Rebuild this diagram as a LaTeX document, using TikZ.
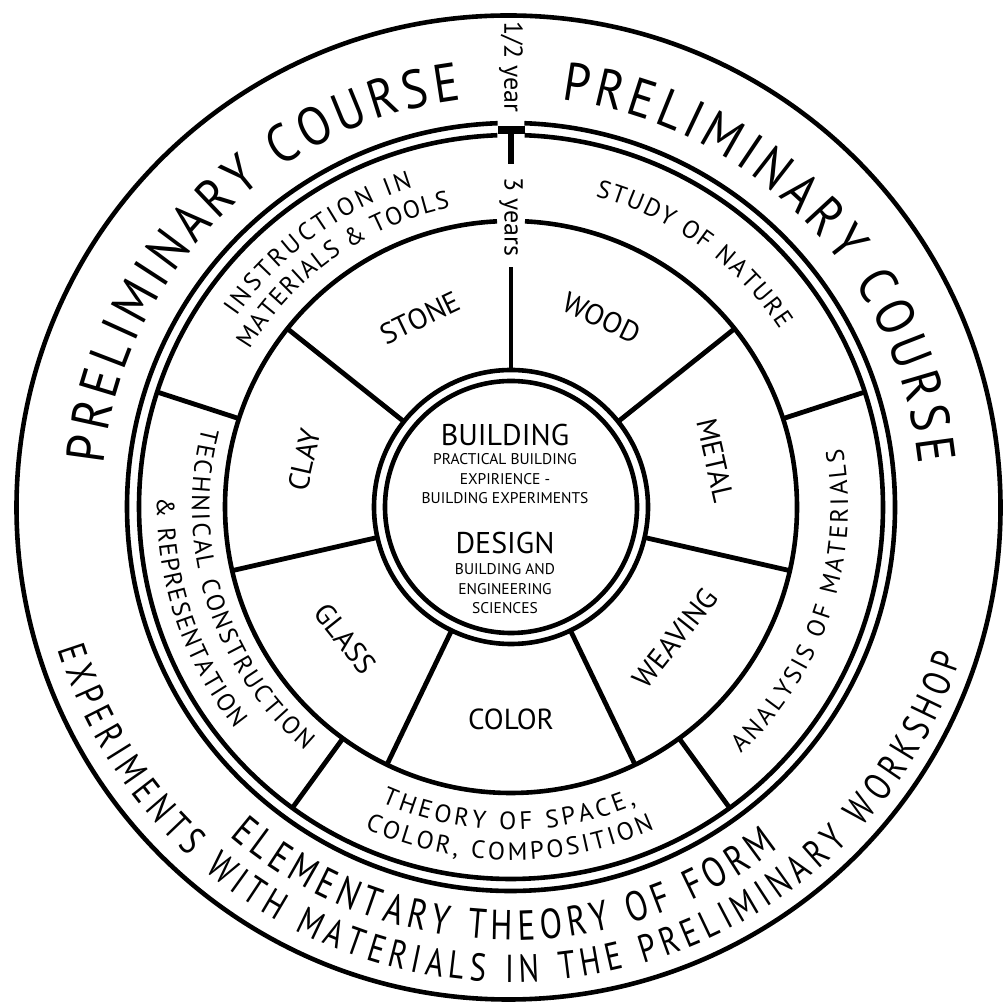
\documentclass[tikz,border=0pt]{standalone}
\usepackage{fontspec}
\setmainfont{PT Sans}
\newfontfamily\condfont[FakeStretch=0.78]{PT Sans}
\newfontfamily\semicondfont[FakeStretch=0.88]{PT Sans}
\usetikzlibrary{decorations.text,calc}
\begin{document}
\begin{tikzpicture}[x=1pt,y=1pt,
  ringline/.style={draw=black,line width=4.6pt},
  divider/.style={draw=black,line width=4.8pt},
  seglabel/.style={font=\fontsize{29}{30}\selectfont, inner sep=0pt},
  centerbig/.style={font=\fontsize{30}{30}\selectfont, inner sep=0pt},
  centersmall/.style={font=\fontsize{15.5}{19.5}\selectfont, inner sep=0pt, align=center},
  yearlabel/.style={font=\fontsize{26}{28}\selectfont, inner sep=0pt, rotate=-90},
  arctext/.style={decorate, decoration={text along path, text align=fit to path, text={#1}}},
]
\useasboundingbox (0,0) rectangle (1004,1008);
\coordinate (C) at (511,501);
\coordinate (O) at (508.5,500.5);

% circles
\draw[ringline] (O) circle[radius=492];
\draw[ringline] ($(C)+(92:384)$) arc[start angle=92,end angle=448,radius=384];
\draw[ringline] ($(C)+(92.1:372)$) arc[start angle=92.1,end angle=447.9,radius=372];
\draw[ringline] ($(C)+(92.8:286)$) arc[start angle=92.8,end angle=447.2,radius=286];
\draw[ringline] (C) circle[radius=137];
\draw[ringline] (C) circle[radius=126];

% T mark and top divider
\fill ($(C)+(-13.5,373)$) rectangle ($(C)+(13.5,381)$);
\draw[line width=6pt] ($(C)+(0,377)$) -- ($(C)+(0,343)$);
\draw[divider] ($(C)+(0,137)$) -- ($(C)+(0,240)$);

% inner wheel dividers
\foreach \a in {141.43,192.86,244.29,295.71,347.14,38.57}
  \draw[divider] ($(C)+(\a:137)$) -- ($(C)+(\a:286)$);
% ring dividers
\foreach \a in {162,234,306,18}
  \draw[divider] ($(C)+(\a:286)$) -- ($(C)+(\a:372)$);

% year labels
\node[yearlabel] (half) at (511,941) {1/2 year};
\node[yearlabel] (three) at (511,791) {3 years};

% outer ring texts
\path[arctext={|\semicondfont\fontsize{54}{54}\selectfont|PRELIMINARY COURSE}]
  ($(C)+(174:410)$) arc[start angle=174,end angle=97,radius=410];
\path[arctext={|\semicondfont\fontsize{54}{54}\selectfont|PRELIMINARY COURSE}]
  ($(C)+(83:410)$) arc[start angle=83,end angle=6,radius=410];
\path[arctext={|\condfont\fontsize{42}{42}\selectfont|ELEMENTARY THEORY OF FORM}]
  ($(C)+(229.5:433)$) arc[start angle=229.5,end angle=308,radius=433];
\path[arctext={|\condfont\fontsize{39}{39}\selectfont|EXPERIMENTS WITH MATERIALS IN THE PRELIMINARY WORKSHOP}]
  ($(C)+(197.5:475)$) arc[start angle=197.5,end angle=341.5,radius=475];

% middle ring texts
\path[arctext={|\fontsize{25}{25}\selectfont|INSTRUCTION IN}]
  ($(C)+(145.3:334)$) arc[start angle=145.3,end angle=107.1,radius=334];
\path[arctext={|\fontsize{25}{25}\selectfont|MATERIALS {\&} TOOLS}]
  ($(C)+(149:305)$) arc[start angle=149,end angle=101.5,radius=305];
\path[arctext={|\fontsize{25}{25}\selectfont|STUDY OF NATURE}]
  ($(C)+(74.8:322)$) arc[start angle=74.8,end angle=33.4,radius=322];
\path[arctext={|\fontsize{25}{25}\selectfont|ANALYSIS OF MATERIALS}]
  ($(C)+(-47:337)$) arc[start angle=-47,end angle=10,radius=337];
\path[arctext={|\fontsize{25}{25}\selectfont|THEORY OF SPACE{,}}]
  ($(C)+(246.3:323)$) arc[start angle=246.3,end angle=292.8,radius=323];
\path[arctext={|\fontsize{25}{25}\selectfont|COLOR{,} COMPOSITION}]
  ($(C)+(245.5:353)$) arc[start angle=245.5,end angle=294,radius=353];
\path[arctext={|\fontsize{25}{25}\selectfont|TECHNICAL CONSTRUCTION}]
  ($(C)+(165.5:319)$) arc[start angle=165.5,end angle=229.8,radius=319];
\path[arctext={|\fontsize{25}{25}\selectfont|{\&} REPRESENTATION}]
  ($(C)+(178.5:354)$) arc[start angle=178.5,end angle=218.8,radius=354];

% wheel segment labels
\node[seglabel,rotate=25.71]  (stone)   at ($(C)+(115.71:210)$) {STONE};
\node[seglabel,rotate=-25.71] (wood)    at ($(C)+(64.29:210)$) {WOOD};
\node[seglabel,rotate=-77.14] (metal)   at ($(C)+(12.86:210)$) {METAL};
\node[seglabel,rotate=51.43]  (weaving) at ($(C)+(-38.57:210)$) {WEAVING};
\node[seglabel]               (color)   at ($(C)+(270:212)$) {COLOR};
\node[seglabel,rotate=-51.43] (glass)   at ($(C)+(218.57:212)$) {GLASS};
\node[seglabel,rotate=77.14]  (clay)    at ($(C)+(167.14:212)$) {CLAY};

% centre texts
\node[centerbig] (building) at (505,573) {BUILDING};
\node[centersmall] (buildingsub) at (505,529) {PRACTICAL BUILDING\\EXPIRIENCE -\\BUILDING EXPERIMENTS};
\node[centerbig] (design) at (505,465) {DESIGN};
\node[centersmall] (designsub) at (505,419) {BUILDING AND\\ENGINEERING\\SCIENCES};
\end{tikzpicture}
\end{document}
